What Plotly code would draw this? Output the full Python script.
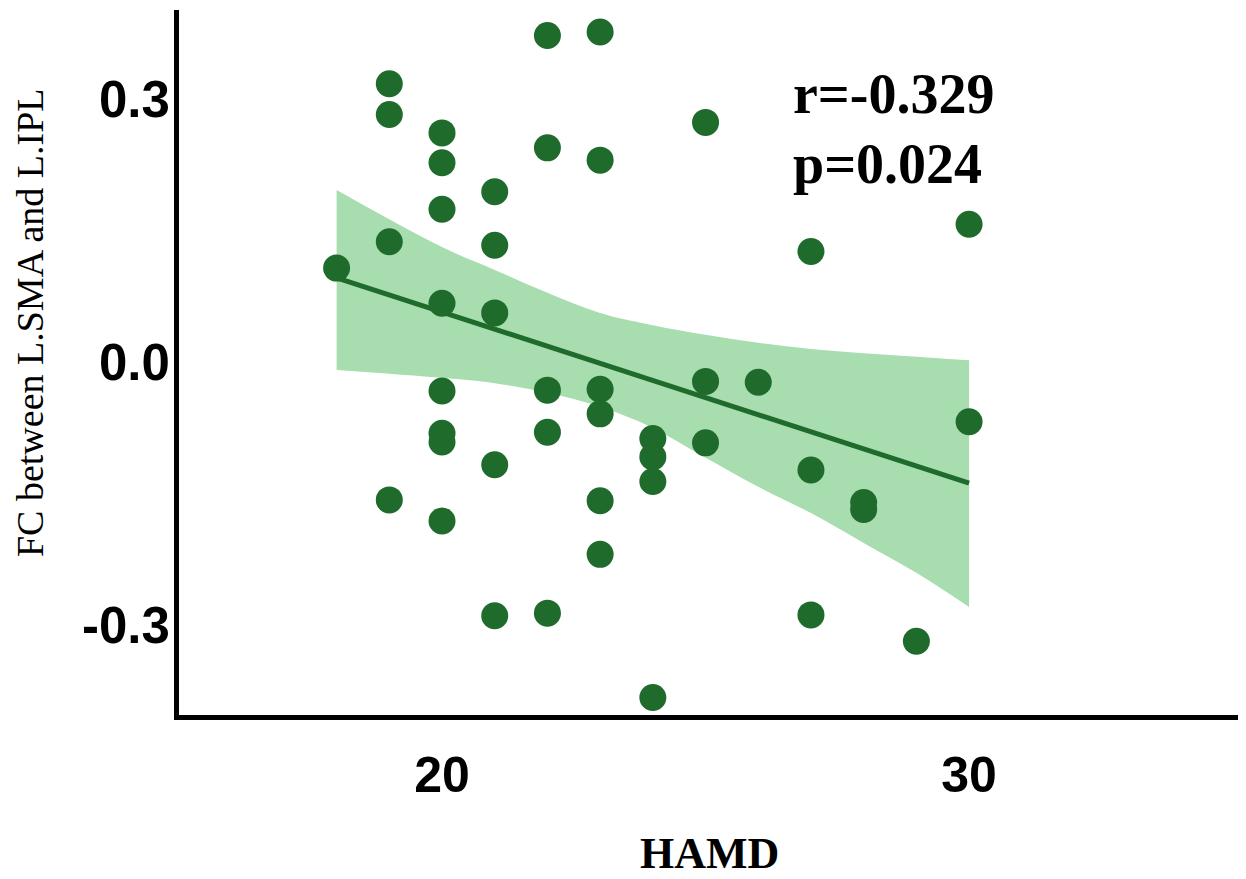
import plotly.graph_objects as go

# Scatter data (HAMD score vs FC value)
hamd = [18,
        19, 19, 19, 19,
        20, 20, 20, 20, 20, 20, 20, 20,
        21, 21, 21, 21, 21,
        22, 22, 22, 22, 22,
        23, 23, 23, 23, 23, 23,
        24, 24, 24, 24,
        25, 25, 25,
        26,
        27, 27, 27,
        28, 28,
        29,
        30, 30]
fc = [0.107,
      0.317, 0.282, 0.137, -0.157,
      0.261, 0.227, 0.174, 0.067, -0.033, -0.081, -0.091, -0.181,
      0.194, 0.133, 0.056, -0.117, -0.289,
      0.372, 0.244, -0.032, -0.080, -0.286,
      0.376, 0.230, -0.031, -0.059, -0.158, -0.219,
      -0.087, -0.108, -0.136, -0.382,
      0.273, -0.022, -0.092,
      -0.023,
      0.126, -0.123, -0.288,
      -0.160, -0.168,
      -0.318,
      0.157, -0.068]

# Fitted regression line
fit_x = [18, 30]
fit_y = [0.096, -0.138]

# Confidence band
band_x = [18, 20, 21, 22, 23, 24, 25, 26, 27, 28, 29, 30]
band_upper = [0.196, 0.131, 0.105, 0.079, 0.056, 0.042, 0.031, 0.022, 0.015, 0.010, 0.006, 0.002]
band_lower = [-0.009, -0.018, -0.024, -0.035, -0.051, -0.075, -0.109, -0.142, -0.172, -0.206, -0.240, -0.279]

y_ticks = [-0.3, 0.0, 0.3]
y_tick_text = ["-0.3", "0.0", "0.3"]
x_ticks = [20, 30]
x_tick_text = ["20", "30"]

dark = "#1f6b2b"
band_col = "#a8ddb0"

fig = go.Figure()
fig.add_trace(go.Scatter(x=band_x, y=band_upper, mode="lines", line=dict(width=0, shape="spline"),
                         hoverinfo="skip", showlegend=False))
fig.add_trace(go.Scatter(x=band_x, y=band_lower, mode="lines", line=dict(width=0, shape="spline"),
                         fill="tonexty", fillcolor=band_col, hoverinfo="skip", showlegend=False))
fig.add_trace(go.Scatter(x=fit_x, y=fit_y, mode="lines", line=dict(color=dark, width=5), showlegend=False))
fig.add_trace(go.Scatter(x=hamd, y=fc, mode="markers",
                         marker=dict(color=dark, size=27, line=dict(width=0)), showlegend=False))

fig.update_layout(
    width=1238, height=871,
    margin=dict(l=171, r=6, t=2, b=164),
    plot_bgcolor="white", paper_bgcolor="white",
    xaxis=dict(range=[15.01, 35.14], showgrid=False, zeroline=False,
               showline=True, linewidth=5, linecolor="black",
               tickvals=x_ticks, ticktext=x_tick_text,
               ticks="outside", ticklen=12, tickcolor="rgba(0,0,0,0)",
               tickfont=dict(family="Liberation Sans", size=50, color="black", weight="bold")),
    yaxis=dict(range=[-0.402, 0.401], showgrid=False, zeroline=False,
               showline=True, linewidth=5, linecolor="black",
               tickvals=y_ticks, ticktext=y_tick_text,
               ticks="", ticklabelstandoff=-6,
               tickfont=dict(family="Liberation Sans", size=51, color="black", weight="bold")),
    annotations=[
        dict(text="HAMD", xref="paper", yref="paper", x=0.5, y=-0.197, yanchor="middle",
             xanchor="center", showarrow=False,
             font=dict(family="Liberation Serif", size=44, color="black", weight="bold")),
        dict(text="FC between L.SMA and L.IPL", xref="paper", yref="paper", x=-0.1404, y=0.556,
             xanchor="center", yanchor="middle", textangle=-90, showarrow=False,
             font=dict(family="Liberation Serif", size=38, color="black")),
        dict(text="r=-0.329", x=26.62, y=0.305, xanchor="left", yanchor="middle", showarrow=False,
             font=dict(family="Liberation Serif", size=56, color="black", weight="bold")),
        dict(text="p=0.024", x=26.62, y=0.226, xanchor="left", yanchor="middle", showarrow=False,
             font=dict(family="Liberation Serif", size=56, color="black", weight="bold")),
    ],
)

fig.write_html("out.html")
